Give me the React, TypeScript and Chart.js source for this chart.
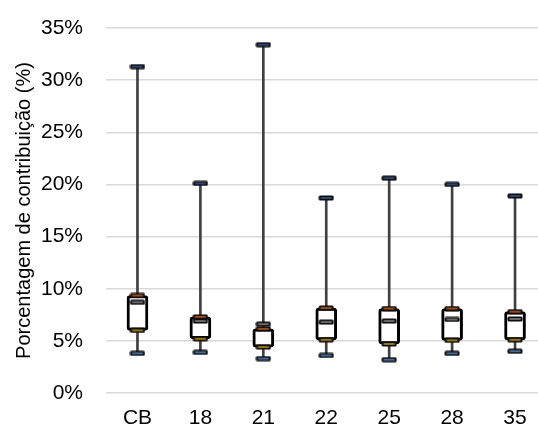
import React, { useEffect, useRef } from "react";
import { Chart, registerables } from "chart.js";

Chart.register(...registerables);

const categories = ["CB", "18", "21", "22", "25", "28", "35"];
const minimo = [3.8, 3.9, 3.3, 3.6, 3.2, 3.8, 4.0];
const quartil1 = [6.0, 5.2, 4.4, 5.1, 4.7, 5.05, 5.1];
const mediana = [8.7, 6.9, 6.6, 6.8, 6.9, 7.05, 7.1];
const quartil3 = [9.35, 7.3, 6.15, 8.15, 8.1, 8.1, 7.8];
const maximo = [31.3, 20.1, 33.4, 18.7, 20.6, 20.0, 18.9];

const yTicks = [0, 5, 10, 15, 20, 25, 30, 35];

const FONT = "'Liberation Sans', Arial, sans-serif";

// Small dash used as marker: black rounded bar with a coloured centre line.
function dashMarker(color: string): HTMLCanvasElement {
  const c = document.createElement("canvas");
  c.width = 16;
  c.height = 6;
  const ctx = c.getContext("2d")!;
  ctx.fillStyle = "#0d0d0d";
  ctx.beginPath();
  (ctx as any).roundRect(0.5, 0.5, 15, 5, 1.5);
  ctx.fill();
  ctx.fillStyle = color;
  ctx.fillRect(2.5, 2.2, 11, 1.6);
  return c;
}

export default function App() {
  const ref = useRef<HTMLCanvasElement | null>(null);

  useEffect(() => {
    if (!ref.current) return;
    const markerSet = (data: number[], color: string, order: number) => ({
      type: "line" as const,
      data,
      showLine: false,
      pointStyle: dashMarker(color),
      pointRadius: 6,
      order,
    });

    const chart = new Chart(ref.current, {
      type: "bar",
      data: {
        labels: categories,
        datasets: [
          {
            type: "bar",
            data: categories.map((_, i) => [minimo[i], maximo[i]]),
            backgroundColor: "#404040",
            borderWidth: 0,
            barThickness: 2,
            grouped: false,
            order: 10,
          } as any,
          {
            type: "bar",
            data: categories.map((_, i) => [quartil1[i], quartil3[i]]),
            backgroundColor: "#ffffff",
            borderColor: "#000000",
            borderWidth: 3,
            borderSkipped: false,
            borderRadius: 3,
            barThickness: 21,
            grouped: false,
            order: 9,
          } as any,
          markerSet(maximo, "#2f5597", 5),
          markerSet(minimo, "#4a86c0", 5),
          markerSet(quartil3, "#c55a11", 4),
          markerSet(quartil1, "#bf9000", 4),
          markerSet(mediana, "#7f7f7f", 3),
        ] as any,
      },
      options: {
        animation: false,
        responsive: false,
        devicePixelRatio: 1,
        layout: { autoPadding: false, padding: { top: 28, right: 13.5, bottom: 0, left: 0 } },
        plugins: {
          legend: { display: false },
          tooltip: { enabled: false },
        },
        scales: {
          x: {
            grid: { display: false, drawTicks: false },
            border: { display: false },
            afterFit: (scale: any) => {
              scale.height = 37;
              scale.paddingLeft = 0;
              scale.paddingRight = 0;
            },
            ticks: {
              color: "#000000",
              font: { family: FONT, size: 21 },
              padding: 13,
              maxRotation: 0,
            },
          },
          y: {
            min: 0,
            max: 35,
            afterBuildTicks: (scale: any) => {
              scale.ticks = yTicks.map((v) => ({ value: v }));
            },
            afterFit: (scale: any) => {
              scale.width = 106;
              scale.paddingTop = 0;
              scale.paddingBottom = 0;
            },
            grid: { color: "#d9d9d9", lineWidth: 1.5, drawTicks: false },
            border: { display: false },
            ticks: {
              color: "#000000",
              font: { family: FONT, size: 21 },
              padding: 23,
              callback: (v: any) => `${v}%`,
            },
            title: {
              display: true,
              text: "Porcentagem de contribuição (%)",
              color: "#000000",
              font: { family: FONT, size: 20 },
              padding: { top: 12, bottom: 0 },
            },
          },
        },
      } as any,
    });
    return () => chart.destroy();
  }, []);

  return (
    <div
      style={{
        position: "fixed",
        left: 0,
        top: 0,
        width: 538,
        height: 430,
        overflow: "hidden",
        background: "#ffffff",
      }}
    >
      <canvas ref={ref} width={560} height={430} style={{ display: "block" }} />
    </div>
  );
}
